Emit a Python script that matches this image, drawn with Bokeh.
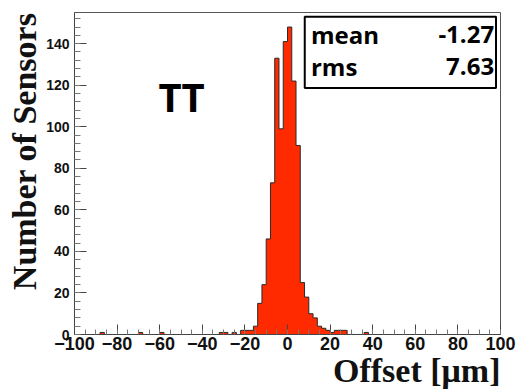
import math
from bokeh.plotting import figure
from bokeh.models import Label, SingleIntervalTicker, BoxAnnotation, Title
from bokeh.embed import file_html
from bokeh.resources import INLINE

# ---- data ----
bin_width = 2
bin_left = [-88, -70, -60, -32, -30, -26, -22, -20, -18, -16, -14, -12, -10, -8, -6, -4,
            -2, 0, 2, 4, 6, 8, 10, 12, 14, 16, 18, 20, 22, 24, 26, 36]
counts = [1, 1, 1, 1, 1, 1, 2, 2, 2, 4, 15, 24, 46, 73, 133, 99,
          141, 148, 122, 91, 25, 18, 10, 8, 4, 3, 2, 1, 2, 2, 2, 1]
x_ticks_interval = 20
y_ticks_interval = 20
stat_names = ["mean", "rms"]
stat_values = ["-1.27", "7.63"]
label_tt = "TT"
x_title = "Offset [μm]"
y_title = "Number of Sensors"

FILL = "#ff2a00"

p = figure(width=517, height=390, x_range=(-100, 100), y_range=(0, 155),
           output_backend="svg", toolbar_location=None,
           min_border_left=74, min_border_right=17, min_border_top=12,
           min_border_bottom=56)
p.background_fill_color = "white"
p.border_fill_color = "white"
p.outline_line_color = "#555555"
p.outline_line_width = 1
p.xgrid.visible = False
p.ygrid.visible = False

# full histogram (zero bins filled in) built from the arrays above
full = {}
for l, c in zip(bin_left, counts):
    full[l] = c
edges = list(range(-100, 101, bin_width))
heights = [full.get(e, 0) for e in edges[:-1]]
p.varea_step(x=edges, y1=[0] * len(edges), y2=heights + [heights[-1]],
             step_mode="after", fill_color=FILL)
sx, sy = [], []
for i in range(len(heights)):
    sx += [edges[i], edges[i + 1]]
    sy += [heights[i], heights[i]]
p.line(sx, sy, line_color="#2a2a2a", line_width=1)

# axes
for ax, interval, nminor, tin, min_in, fs in (
        (p.xaxis[0], x_ticks_interval, 4, 10, 5, "18px"),
        (p.yaxis[0], y_ticks_interval, 5, 12, 6, "14px")):
    ax.ticker = SingleIntervalTicker(interval=interval, num_minor_ticks=nminor)
    ax.major_tick_in = tin
    ax.major_tick_out = 0
    ax.minor_tick_in = min_in
    ax.minor_tick_out = 0
    ax.axis_line_color = "#444444"
    ax.major_tick_line_color = "#444444"
    ax.minor_tick_line_color = "#777777"
    ax.major_label_text_font = "Liberation Sans"
    ax.major_label_text_font_style = "bold"
    ax.major_label_text_font_size = fs
    ax.major_label_text_color = "#111111"
p.xaxis.major_label_standoff = 2
p.yaxis.major_label_standoff = 5

# axis titles (ROOT style: aligned to the axis end)
p.add_layout(Title(text=x_title, align="right", text_font="Liberation Serif",
                   text_font_style="bold", text_font_size="34px",
                   text_color="#111111", standoff=-5), "below")
p.add_layout(Title(text=y_title, align="right", text_font="Liberation Serif",
                   text_font_style="bold", text_font_size="34px",
                   text_color="#111111", standoff=1), "left")

# TT label
p.add_layout(Label(x=-60.6, y=114.8, text=label_tt, text_font="Open Sans",
                   text_font_style="bold", text_font_size="40px",
                   text_color="black", text_baseline="alphabetic"))

# stats box
p.add_layout(BoxAnnotation(left=8.1, right=97.9, bottom=118.7, top=152.9,
                           fill_color="white", fill_alpha=1.0,
                           line_color="black", line_width=2, line_alpha=1.0))
for i, (nm, val) in enumerate(zip(stat_names, stat_values)):
    yb = 144.6 - i * 15.4
    p.add_layout(Label(x=11.0, y=yb, text=nm, text_font="Open Sans",
                       text_font_style="bold", text_font_size="24px",
                       text_color="black", text_baseline="alphabetic"))
    p.add_layout(Label(x=97.0, y=yb, text=val, text_font="Open Sans",
                       text_font_style="bold", text_font_size="24px",
                       text_color="black", text_align="right",
                       text_baseline="alphabetic"))

open("out.html", "w").write(file_html(p, INLINE))
